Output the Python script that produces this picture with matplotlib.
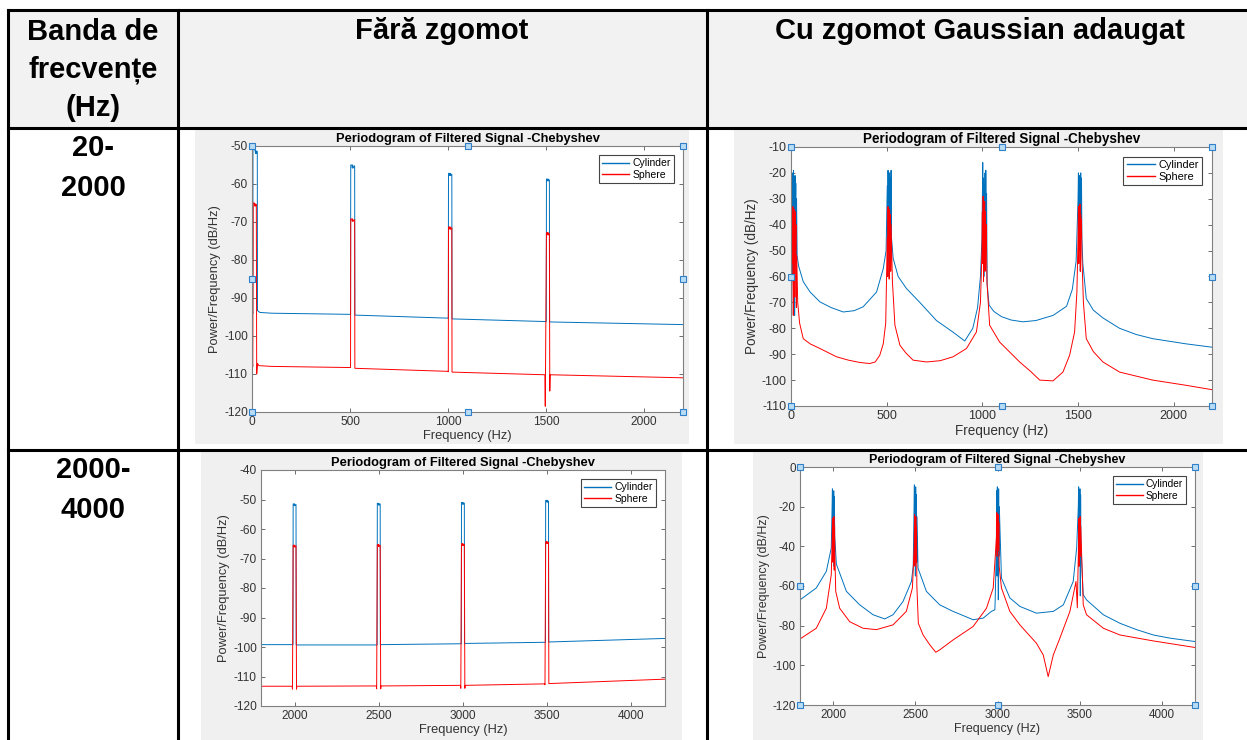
import matplotlib
matplotlib.use("Agg")
import matplotlib.pyplot as plt
from matplotlib.patches import Rectangle
from matplotlib.lines import Line2D

W, H = 1247, 740
AZUL = "#0072BD"
VERMELHO = "#FF0000"
CINZA_FIG = "#f0f0f0"
CINZA_CAB = "#f2f2f2"
plt.rcParams["font.family"] = ["Liberation Sans", "DejaVu Sans"]
plt.rcParams["axes.unicode_minus"] = False

# ---- table text ----
cabecalho = ["Fără zgomot", "Cu zgomot Gaussian adaugat"]
col1_titulo = ["Banda de", "frecvențe", "(Hz)"]
bandas = [["20-", "2000"], ["2000-", "4000"]]

# ---- A: 20-2000 Hz, no noise ----
cyl_a_f = [0, 2, 4, 5, 10, 16, 18, 20, 22, 27, 28, 40, 100,
           500, 503, 504, 510, 512, 514, 516, 524, 525,
           1000, 1002, 1003, 1008, 1010, 1012, 1014, 1020, 1021,
           1500, 1502, 1503, 1507, 1509, 1511, 1513, 1518, 1519, 2200]
cyl_a_db = [-95, -93, -94, -50.5, -50.8, -51.2, -52, -51.2, -52, -51.4, -93.3, -93.8, -94,
            -94.3, -94.3, -55, -55, -55.8, -55, -55.8, -55.2, -94.5,
            -95.3, -95.3, -57.2, -57.2, -57.8, -57.2, -57.8, -57.4, -95.5,
            -96.2, -96.2, -58.7, -58.7, -59.2, -58.7, -59.2, -58.9, -96.3, -97]
sph_a_f = [0, 2, 4, 6, 12, 14, 16, 18, 22, 24, 28, 35, 100,
           500, 503, 504, 510, 512, 514, 516, 524, 525,
           1000, 1002, 1003, 1008, 1010, 1012, 1014, 1020, 1021,
           1495, 1497, 1503, 1507, 1509, 1511, 1513, 1518, 1520, 1522, 2200]
sph_a_db = [-110, -107, -108, -65, -65, -65.8, -65.2, -65.8, -65.4, -110, -107.2, -107.8, -108,
            -108.3, -108.3, -69.2, -69.2, -69.8, -69.2, -69.8, -69.4, -108.5,
            -109.3, -109.4, -71.3, -71.3, -71.9, -71.3, -71.9, -71.5, -109.5,
            -110.2, -118.5, -72.8, -72.8, -73.4, -72.8, -73.4, -73, -114.5, -110.2, -111]

# ---- B: 20-2000 Hz, gaussian noise ----
cyl_b_f = [0, 3, 5, 7, 9, 11, 13, 15, 17, 19, 21, 23, 25, 27, 29, 32, 40, 64, 100, 151, 210, 273, 330, 377, 447, 482, 497,
           503, 505, 507, 509, 511, 513, 515, 517, 519, 521, 523, 525,
           534, 560, 603, 673, 760, 847, 908, 950, 975, 990,
           998, 1000, 1002, 1004, 1006, 1008, 1010, 1012, 1014, 1016, 1018, 1020, 1022, 1025,
           1035, 1060, 1100, 1150, 1212, 1280, 1370, 1440, 1470, 1490,
           1500, 1502, 1504, 1506, 1508, 1510, 1512, 1514, 1516, 1518, 1520,
           1525, 1543, 1580, 1630, 1717, 1804, 1890, 2064, 2200]
cyl_b_db = [-55, -75, -25, -60, -20, -45, -19, -35, -22, -75, -21, -40, -24, -55, -30, -52, -56, -62, -66, -69.8, -72, -73.7, -73.2, -71.7, -66, -57, -50,
            -25, -55, -19, -40, -21, -60, -20, -35, -22, -50, -19, -45,
            -53, -60, -64.6, -70, -77, -81.5, -84.9, -80, -72, -60,
            -45, -30, -16, -45, -22, -60, -25, -35, -20, -50, -19, -40, -28, -63,
            -71, -73.5, -75.5, -76.8, -77.5, -77, -75, -71.5, -65, -54,
            -30, -20, -50, -21, -35, -23, -58, -20, -40, -22, -45,
            -55, -68.5, -73, -76, -80, -82.4, -84, -86, -87.3]
sph_b_f = [0, 4, 6, 8, 10, 12, 14, 16, 18, 20, 22, 24, 26, 28, 30, 35, 45, 64, 100, 151, 238, 300, 360, 412, 440, 464, 482, 495,
           503, 505, 507, 509, 511, 513, 515, 517, 519, 521, 523,
           530, 543, 569, 600, 638, 708, 780, 847, 917, 969, 990,
           998, 1000, 1002, 1004, 1006, 1008, 1010, 1012, 1014, 1016, 1018, 1020, 1024,
           1038, 1090, 1195, 1250, 1300, 1369, 1421, 1456, 1482, 1494,
           1500, 1502, 1504, 1506, 1508, 1510, 1512, 1514, 1516, 1518, 1520,
           1528, 1543, 1580, 1630, 1717, 1890, 2064, 2200]
sph_b_db = [-77, -60, -35, -55, -33, -75, -36, -45, -34, -68, -35, -50, -40, -72, -52, -70, -78, -84, -86, -87.8, -91, -92.3, -93.2, -93.6, -93, -90.4, -86, -78,
            -45, -60, -33, -50, -35, -61, -34, -45, -36, -58, -40,
            -62, -78.8, -86.5, -89.5, -92.3, -93, -92.5, -91, -87.8, -81.4, -70,
            -50, -35, -55, -29, -62, -33, -45, -31, -58, -35, -50, -40, -62,
            -78.8, -85.3, -93, -96.5, -100, -100.3, -96.9, -90.4, -81.4, -66,
            -45, -33, -55, -35, -50, -32, -58, -36, -45, -38, -52,
            -70, -84, -89, -93, -96.9, -100, -102, -103.7]

# ---- C: 2000-4000 Hz, no noise ----
cyl_c_f = [1800, 1990, 1991, 1996, 1998, 2000, 2002, 2008, 2009,
           2490, 2491, 2496, 2498, 2500, 2502, 2508, 2509,
           2990, 2991, 2996, 2998, 3000, 3002, 3008, 3009,
           3490, 3491, 3496, 3498, 3500, 3502, 3508, 3509, 4200]
cyl_c_db = [-99.2, -99.2, -51.5, -51.5, -52.1, -51.5, -52.1, -51.7, -99.3,
            -99.3, -51.3, -51.3, -51.9, -51.3, -51.9, -51.5, -99.2,
            -98.9, -51, -51, -51.6, -51, -51.6, -51.2, -98.8,
            -98.4, -50.3, -50.3, -50.9, -50.3, -50.9, -50.5, -98.3, -97.1]
sph_c_f = [1800, 1985, 1987, 1991, 1996, 1998, 2000, 2002, 2008, 2011, 2013,
           2485, 2487, 2491, 2496, 2498, 2500, 2502, 2508, 2511, 2513,
           2985, 2987, 2991, 2996, 2998, 3000, 3002, 3008, 3011, 3013,
           3485, 3487, 3491, 3496, 3498, 3500, 3502, 3508, 3510, 4200]
sph_c_db = [-113.3, -113.3, -114.3, -65.5, -65.5, -66.1, -65.5, -66.1, -65.7, -114.3, -113.3,
            -113.2, -114.2, -65.3, -65.3, -65.9, -65.3, -65.9, -65.5, -114.2, -113.2,
            -113, -114, -65, -65, -65.6, -65, -65.6, -65.2, -114, -113,
            -112.5, -112.8, -64.3, -64.3, -64.9, -64.3, -64.9, -64.5, -112.4, -110.9]

# ---- D: 2000-4000 Hz, gaussian noise ----
cyl_d_f = [1800, 1899, 1960, 1990,
           1995, 1997, 1999, 2001, 2003, 2005, 2007, 2009, 2011,
           2021, 2082, 2163, 2244, 2315, 2365, 2426, 2477, 2488,
           2493, 2495, 2497, 2499, 2501, 2503, 2505, 2507, 2509, 2511,
           2517, 2568, 2649, 2730, 2852, 2913, 2963, 2984, 2986,
           2993, 2995, 2997, 2999, 3001, 3003, 3005, 3007, 3009, 3011,
           3024, 3075, 3136, 3237, 3339, 3400, 3460, 3481,
           3491, 3493, 3495, 3497, 3499, 3501, 3503, 3505, 3507,
           3521, 3541, 3643, 3744, 3845, 3947, 4048, 4200]
cyl_d_db = [-67, -61, -52.6, -40.8,
            -20, -11, -45, -13, -30, -12, -50, -15, -35,
            -49, -62.7, -69.5, -74.5, -76.6, -74.5, -67.8, -57.7, -50,
            -20, -9, -40, -12, -55, -10, -30, -14, -48, -25,
            -51, -62.7, -69.5, -72.8, -77, -76.2, -72.8, -72, -67,
            -40, -12, -55, -10, -30, -13, -67, -11, -45, -20,
            -56, -66, -70.3, -73.7, -72.8, -69.5, -57.7, -40.8,
            -20, -10, -50, -12, -35, -11, -65, -14, -40,
            -64.4, -67, -74.5, -78.8, -82, -84.7, -86.3, -88]
sph_d_f = [1800, 1899, 1960, 1990,
           1996, 1998, 2000, 2002, 2004, 2006, 2008, 2010, 2012,
           2017, 2041, 2102, 2183, 2264, 2365, 2446, 2483,
           2494, 2496, 2498, 2500, 2502, 2504, 2506, 2508, 2510,
           2519, 2548, 2589, 2625, 2649, 2730, 2852, 2933, 2974,
           2994, 2996, 2998, 3000, 3002, 3004, 3006, 3008, 3010,
           3024, 3075, 3136, 3237, 3278, 3308, 3339, 3379, 3440, 3477, 3485,
           3492, 3494, 3496, 3498, 3500, 3502, 3504, 3506,
           3521, 3541, 3643, 3744, 3947, 4200]
sph_d_db = [-86.7, -81.3, -71.2, -54.3,
            -35, -26, -48, -28, -40, -25, -52, -30, -45,
            -62.7, -71.2, -78, -81.3, -82, -79.6, -72.8, -61,
            -40, -24, -50, -26, -35, -25, -48, -30, -60,
            -78.8, -84.7, -89.7, -93.4, -92.2, -87.2, -80.4, -71.2, -61,
            -35, -23, -45, -25, -38, -24, -42, -28, -50,
            -61, -72.8, -79.6, -88.9, -94.8, -105.7, -94.8, -86.3, -72.8, -57.7, -71,
            -40, -26, -50, -28, -35, -25, -45, -30,
            -69.5, -74.5, -81.3, -84.7, -87.7, -91]


def fx(x):
    return x / W


def fy(y):
    return 1 - y / H


def retangulo(fig, x0, y0, x1, y1, cor):
    # zorder negativo: fica atrás dos eixos
    fig.patches.append(Rectangle((fx(x0), fy(y1)), fx(x1 - x0), (y1 - y0) / H,
                                 transform=fig.transFigure, facecolor=cor,
                                 edgecolor="none", zorder=-5))


def linha(fig, xs, ys):
    fig.add_artist(Line2D([fx(x) for x in xs], [fy(y) for y in ys],
                          color="black", linewidth=2.2, zorder=5))


def texto(fig, x, y, s):
    fig.text(fx(x), fy(y), s, ha="center", va="center", fontsize=21, fontweight="bold")


def grafico(fig, caixa, fundo, cyl, sph, xlim, ylim, xticks, yticks, esc=1.0, alcas=True):
    retangulo(fig, *fundo, CINZA_FIG)
    l, t, r, b = caixa
    ax = fig.add_axes([fx(l), fy(b), fx(r - l), (b - t) / H])
    ax.plot(cyl[0], cyl[1], color=AZUL, linewidth=0.7, label="Cylinder")
    ax.plot(sph[0], sph[1], color=VERMELHO, linewidth=0.7, label="Sphere")
    ax.set_xlim(*xlim)
    ax.set_ylim(*ylim)
    ax.set_xticks(xticks)
    ax.set_yticks(yticks)
    ax.tick_params(direction="in", top=True, right=True, length=3, width=0.6,
                   colors="#555555", labelcolor="#333333", labelsize=8.6 * esc, pad=3)
    for s in ax.spines.values():
        s.set_color("#808080")
        s.set_linewidth(0.8)
    ax.set_title("Periodogram of Filtered Signal -Chebyshev", fontsize=9.3 * esc,
                 fontweight="bold", pad=3)
    ax.set_xlabel("Frequency (Hz)", fontsize=9.3 * esc, color="#333333", labelpad=1)
    ax.set_ylabel("Power/Frequency (dB/Hz)", fontsize=9.3 * esc, color="#333333", labelpad=2)
    leg = ax.legend(loc="upper right", fontsize=7.5 * esc, fancybox=False, framealpha=1,
                    edgecolor="#444444", handlelength=2.6, borderpad=0.3,
                    labelspacing=0.15, borderaxespad=0.9, handletextpad=0.3)
    leg.get_frame().set_linewidth(0.8)
    for ln in leg.get_lines():
        ln.set_linewidth(1.0)
    if alcas:
        ax.plot([0, 0.5, 1, 0, 1, 0, 0.5, 1], [1, 1, 1, 0.5, 0.5, 0, 0, 0], "s",
                transform=ax.transAxes, clip_on=False, markersize=4.3,
                markerfacecolor="#b8dcf4", markeredgecolor="#2f80c8",
                markeredgewidth=0.8, zorder=10)
    return ax


fig = plt.figure(figsize=(W / 100, H / 100), dpi=100)

# table background and text
retangulo(fig, 8, 10, W, 128, CINZA_CAB)
for txt, y in zip(col1_titulo, [32, 70, 108]):
    texto(fig, 93, y, txt)
texto(fig, 442, 31, cabecalho[0])
texto(fig, 980, 31, cabecalho[1])
for (a, b), y in zip(bandas, [148, 470]):
    texto(fig, 93, y, a)
    texto(fig, 93, y + 40, b)

# plots
grafico(fig, (252, 146, 683, 412), (195, 129, 689, 444), (cyl_a_f, cyl_a_db), (sph_a_f, sph_a_db),
        (0, 2200), (-120, -50), range(0, 2001, 500), range(-120, -49, 10), esc=1.0)
grafico(fig, (791, 147, 1212, 406), (734, 129, 1223, 444), (cyl_b_f, cyl_b_db), (sph_b_f, sph_b_db),
        (0, 2200), (-110, -10), range(0, 2001, 500), range(-110, -9, 10), esc=1.05)
grafico(fig, (261, 470, 665, 706), (201, 452, 682, 740), (cyl_c_f, cyl_c_db), (sph_c_f, sph_c_db),
        (1800, 4200), (-120, -40), range(2000, 4001, 500), range(-120, -39, 10), esc=1.0, alcas=False)
grafico(fig, (800, 467, 1195, 705), (753, 452, 1203, 740), (cyl_d_f, cyl_d_db), (sph_d_f, sph_d_db),
        (1800, 4200), (-120, 0), range(2000, 4001, 500), range(-120, 1, 20), esc=0.97)

# table grid
linha(fig, [8, W], [10, 10])
linha(fig, [8, W], [128, 128])
linha(fig, [8, W], [450, 450])
linha(fig, [8, 8], [10, H])
linha(fig, [178, 178], [10, H])
linha(fig, [707, 707], [10, H])

plt.savefig("out.png", dpi=100)
plt.close()
